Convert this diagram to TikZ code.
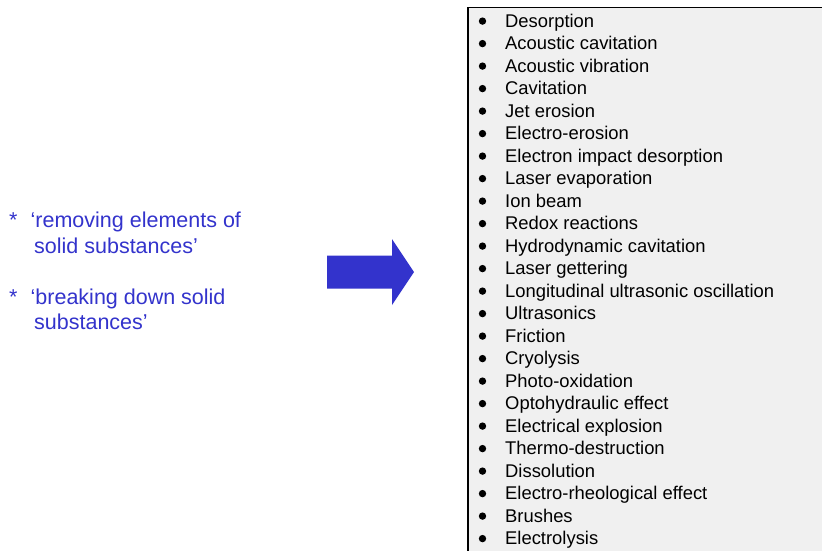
\documentclass[tikz,border=0pt]{standalone}
\usepackage{fontspec}
\setmainfont{Liberation Sans}
\definecolor{tblue}{HTML}{3333CC}
\definecolor{boxgray}{HTML}{F0F0F0}
\tikzset{
  listtext/.style={anchor=base west, inner sep=0pt, font=\fontsize{18.4}{22}\selectfont, text=black},
  lefttext/.style={anchor=base west, inner sep=0pt, font=\fontsize{21.5}{26}\selectfont, text=tblue},
  bulletdot/.style={fill=black, draw=none},
}
\begin{document}
\begin{tikzpicture}[x=1pt, y=-1pt]
\useasboundingbox (0,0) rectangle (822,550);
\clip (0,0) rectangle (822,550);
\fill[white] (0,0) rectangle (822,550);
% list box
\draw[fill=boxgray, line width=1.5pt] (468,7.5) rectangle (840,570);
% list items
\foreach \t [count=\i from 0] in {Desorption,Acoustic cavitation,Acoustic vibration,Cavitation,Jet erosion,Electro-erosion,Electron impact desorption,Laser evaporation,Ion beam,Redox reactions,Hydrodynamic cavitation,Laser gettering,Longitudinal ultrasonic oscillation,Ultrasonics,Friction,Cryolysis,Photo-oxidation,Optohydraulic effect,Electrical explosion,Thermo-destruction,Dissolution,Electro-rheological effect,Brushes,Electrolysis}{
  \pgfmathsetmacro{\yb}{27.3+22.5*\i}
  \fill[bulletdot] (482.5,\yb-6.2) circle (3.7);
  \node[listtext] (item\i) at (505,\yb) {\t};
}
% left text
\node[lefttext] (star1) at (9,227.3) {*};
\node[lefttext] (l1a) at (30.5,227.3) {‘removing elements of};
\node[lefttext] (l1b) at (34,253.3) {solid substances’};
\node[lefttext] (star2) at (9,304) {*};
\node[lefttext] (l2a) at (30.5,304) {‘breaking down solid};
\node[lefttext] (l2b) at (34,329.5) {substances’};
% block arrow
\fill[tblue] (327,255.5) -- (392,255.5) -- (392,239) -- (414,272) -- (392,305) -- (392,288.5) -- (327,288.5) -- cycle;
\end{tikzpicture}
\end{document}
